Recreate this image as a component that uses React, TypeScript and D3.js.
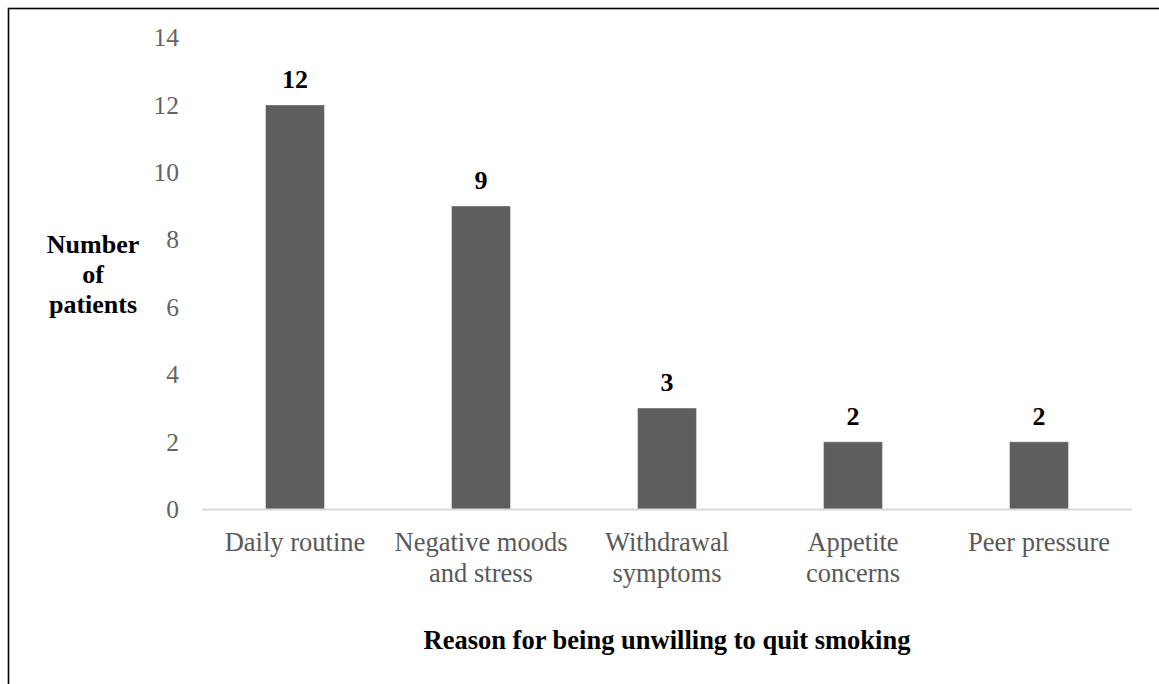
import React from "react";
import * as d3 from "d3";

// Reasons given by patients for not wanting to quit smoking
const categories: string[][] = [
  ["Daily routine"],
  ["Negative moods", "and stress"],
  ["Withdrawal", "symptoms"],
  ["Appetite", "concerns"],
  ["Peer pressure"],
];
const counts: number[] = [12, 9, 3, 2, 2];
const yTicks: number[] = [0, 2, 4, 6, 8, 10, 12, 14];
const yTitle: string[] = ["Number", "of", "patients"];
const xTitle = "Reason for being unwilling to quit smoking";

const W = 1159;
const H = 684;
const FONT = '"Liberation Serif", "Times New Roman", Times, "DejaVu Serif", serif';

export default function App() {
  const keys = categories.map((c) => c.join(" "));
  const x = d3
    .scaleBand<string>()
    .domain(keys)
    .range([202, 1132])
    .paddingInner(0.688)
    .paddingOuter(0.344);
  const y = d3.scaleLinear().domain([0, 14]).range([509.5, 38]);
  const cx = (i: number) => x(keys[i])! + x.bandwidth() / 2;

  return (
    <svg
      width={W}
      height={H}
      style={{ position: "absolute", left: 0, top: 0, background: "#fff", fontFamily: FONT }}
    >
      {/* outer frame */}
      <rect x={8.5} y={8.5} width={1400} height={1000} fill="none" stroke="#000" strokeWidth={1.6} />

      {/* y tick labels */}
      {yTicks.map((t) => (
        <text key={t} x={179} y={y(t)} dy="0.33em" textAnchor="end" fontSize={25.5} fill="#636363">
          {t}
        </text>
      ))}

      {/* bars */}
      {counts.map((v, i) => (
        <rect
          key={keys[i]}
          x={x(keys[i])!}
          y={y(v)}
          width={x.bandwidth()}
          height={y(0) - y(v)}
          fill="#5e5e5e"
          stroke="#6a6a6a"
          strokeWidth={0.6}
        />
      ))}

      {/* value labels */}
      {counts.map((v, i) => (
        <text key={"v" + keys[i]} x={cx(i)} y={y(v) - 17} textAnchor="middle" fontSize={26} fontWeight="bold" fill="#000">
          {v}
        </text>
      ))}

      {/* baseline */}
      <line x1={202} x2={1132} y1={y(0)} y2={y(0)} stroke="#d9d9d9" strokeWidth={2} />

      {/* category labels */}
      {categories.map((lines, i) => (
        <text key={"c" + keys[i]} x={cx(i)} y={551} textAnchor="middle" fontSize={26.5} fill="#595959">
          {lines.map((l, j) => (
            <tspan key={j} x={cx(i)} dy={j === 0 ? 0 : 31}>
              {l}
            </tspan>
          ))}
        </text>
      ))}

      {/* y axis title */}
      <text x={93} y={253} textAnchor="middle" fontSize={26} fontWeight="bold" fill="#000">
        {yTitle.map((l, j) => (
          <tspan key={j} x={93} dy={j === 0 ? 0 : 30}>
            {l}
          </tspan>
        ))}
      </text>

      {/* x axis title */}
      <text x={667} y={649} textAnchor="middle" fontSize={26.5} fontWeight="bold" fill="#000">
        {xTitle}
      </text>
    </svg>
  );
}
